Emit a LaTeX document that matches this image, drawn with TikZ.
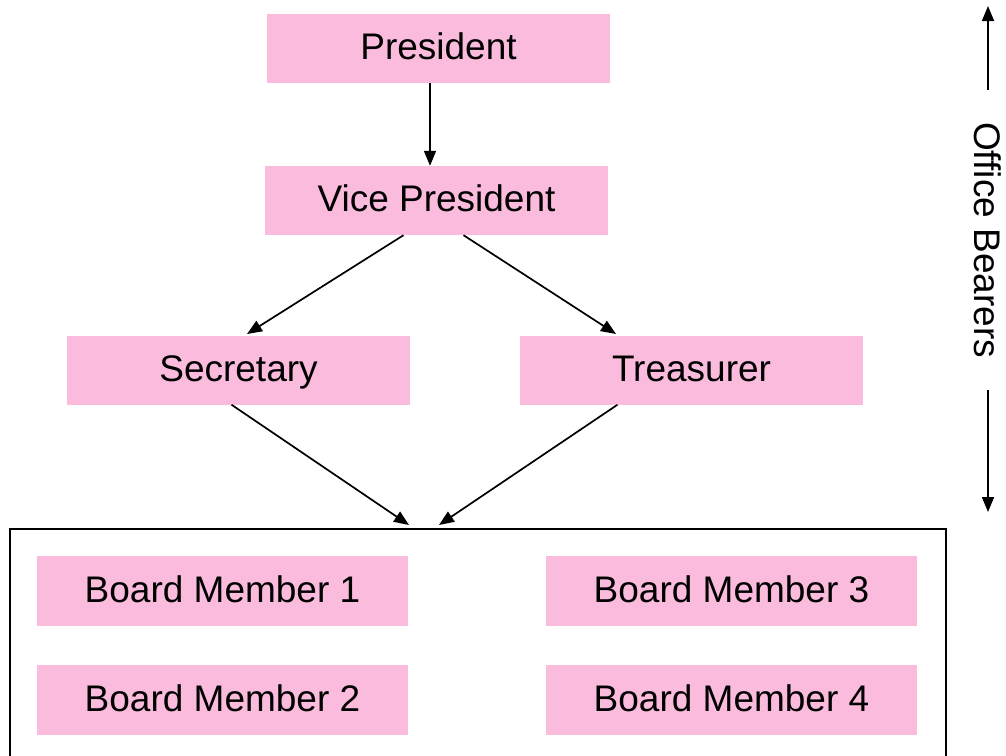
\documentclass[tikz,border=0pt]{standalone}
\usepackage{fontspec}
\setmainfont{Liberation Sans}
\usetikzlibrary{arrows.meta}
\definecolor{boxpink}{RGB}{251,187,220}
\begin{document}
\begin{tikzpicture}[x=1pt,y=-1pt,
  role/.style={rectangle,fill=boxpink,draw=none,minimum width=343pt,minimum height=69pt,inner sep=0pt,
    text height=27pt,text depth=5pt,font=\fontsize{37}{44}\selectfont},
  conn/.style={line width=1.7pt,-{Triangle[length=15pt,width=12pt]}}]
\useasboundingbox (0,0) rectangle (1006,755);
\node[role] (pres) at (438.5,48.5) {President};
\node[role] (vp) at (436.5,200.5) {Vice President};
\node[role] (sec) at (238.5,370) {Secretary};
\node[role] (tre) at (691.5,370) {Treasurer};
\node[role,minimum width=371pt,minimum height=70pt] (bm1) at (222.5,591) {Board Member 1};
\node[role,minimum width=371pt,minimum height=70pt] (bm2) at (222.5,700) {Board Member 2};
\node[role,minimum width=371pt,minimum height=70pt] (bm3) at (731.5,591) {Board Member 3};
\node[role,minimum width=371pt,minimum height=70pt] (bm4) at (731.5,700) {Board Member 4};
% board frame (open at bottom, runs off the page)
\coordinate (fbl) at (10,760);
\coordinate (ftl) at (10,529);
\coordinate (ftr) at (946,529);
\coordinate (fbr) at (946,760);
\draw[line width=1.7pt] (fbl) -- (ftl) -- (ftr) -- (fbr);
\coordinate (tipL) at (409,525);
\coordinate (tipR) at (439,525);
% connectors
\draw[conn] ([xshift=-8.5pt]pres.south) -- ([xshift=-6.5pt]vp.north);
\draw[conn] ([xshift=-33pt]vp.south) -- (247,334);
\draw[conn] ([xshift=27pt]vp.south) -- (616,334);
\draw[conn] ([xshift=-7pt]sec.south) -- (tipL);
\draw[conn] ([xshift=-74pt]tre.south) -- (tipR);
% office bearers range
\node[rotate=-90,font=\fontsize{37}{44}\selectfont] (ob) at (988,240) {Office Bearers};
\coordinate (obtop) at (988,6);
\coordinate (obbot) at (988,512);
\draw[conn] (988,90) -- (obtop);
\draw[conn] (988,390) -- (obbot);
\end{tikzpicture}
\end{document}
